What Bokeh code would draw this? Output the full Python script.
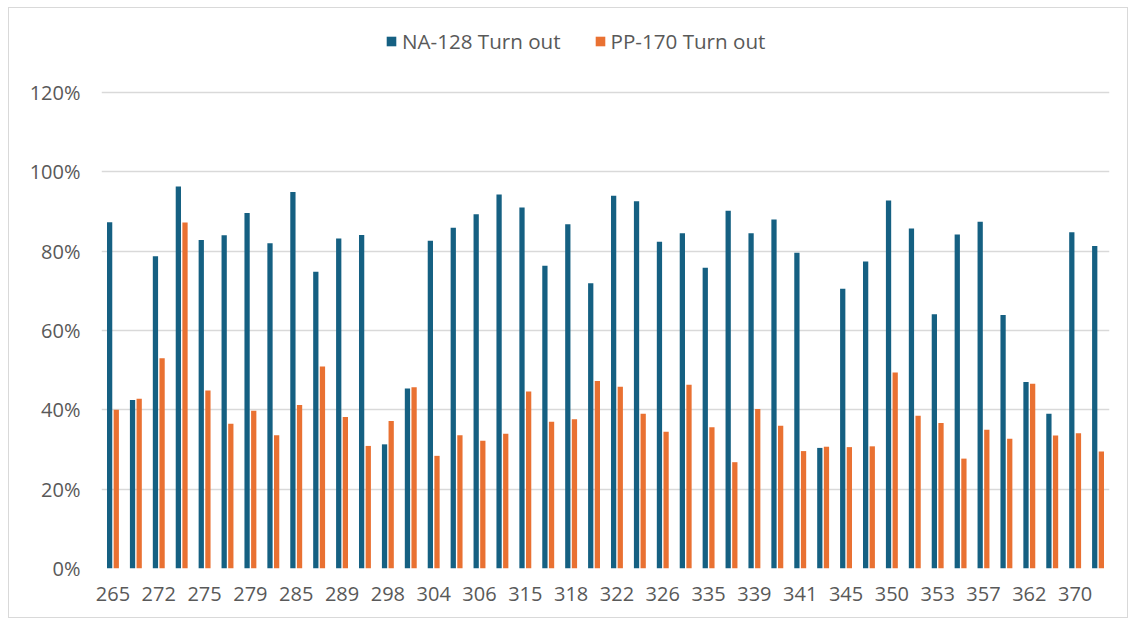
from bokeh.plotting import figure
from bokeh.models import Range1d, FixedTicker, NumeralTickFormatter, Legend, LegendItem, ColumnDataSource
from bokeh.embed import file_html
from bokeh.resources import INLINE

# Visible tick labels (every other category is labelled in the original)
tick_labels = ["265", "272", "275", "279", "285", "289", "298", "304", "306", "315", "318",
               "322", "326", "335", "339", "341", "345", "350", "353", "357", "362", "370"]

na128 = [87.3, 42.5, 78.7, 96.3, 82.8, 84.0, 89.6, 82.0, 94.9, 74.8, 83.2,
         84.1, 31.3, 45.4, 82.6, 85.9, 89.3, 94.3, 91.0, 76.3, 86.8, 71.9,
         94.0, 92.6, 82.4, 84.5, 75.8, 90.2, 84.5, 88.0, 79.6, 30.4, 70.5,
         77.4, 92.8, 85.7, 64.1, 84.2, 87.4, 63.9, 47.0, 39.0, 84.8, 81.3]
pp170 = [40.0, 42.8, 53.0, 87.2, 44.9, 36.5, 39.8, 33.6, 41.2, 50.9, 38.2,
         30.9, 37.2, 45.7, 28.4, 33.6, 32.2, 34.0, 44.6, 37.0, 37.6, 47.3,
         45.8, 39.0, 34.5, 46.3, 35.6, 26.8, 40.2, 36.0, 29.6, 30.7, 30.6,
         30.8, 49.4, 38.5, 36.7, 27.7, 35.0, 32.7, 46.6, 33.5, 34.1, 29.5]

n = len(na128)
idx = list(range(n))
src = ColumnDataSource(dict(
    xa=[i - 0.145 for i in idx],
    xb=[i + 0.145 for i in idx],
    a=[v / 100 for v in na128],
    b=[v / 100 for v in pp170],
))

FONT = "Open Sans"
TXT = "#595959"

# frame extends above the 120% line to host the legend (ticks stop at 120%)
p = figure(width=1120, height=611, output_backend="svg", toolbar_location=None,
           x_range=Range1d(-0.5, n - 0.5), y_range=Range1d(0, 1.2 + 71 / 396.67),
           min_border_left=92, min_border_top=13, min_border_right=20, min_border_bottom=51)
p.margin = (7, 5, 0, 8)
p.styles = {"border": "1px solid #d9d9d9", "box-sizing": "border-box"}
p.outline_line_color = None

ra = p.vbar(x="xa", top="a", width=0.23, source=src, color="#156082", line_color=None)
rb = p.vbar(x="xb", top="b", width=0.23, source=src, color="#E97132", line_color=None)

p.xgrid.grid_line_color = None
p.ygrid.grid_line_color = "#D9D9D9"
p.ygrid.grid_line_width = 1.5

p.yaxis.ticker = FixedTicker(ticks=[0, 0.2, 0.4, 0.6, 0.8, 1.0, 1.2])
p.yaxis.formatter = NumeralTickFormatter(format="0%")
p.xaxis.ticker = FixedTicker(ticks=[2 * i for i in range(len(tick_labels))])
p.xaxis.major_label_overrides = {2 * i: lab for i, lab in enumerate(tick_labels)}

for ax in (p.xaxis, p.yaxis):
    ax.axis_line_color = None
    ax.major_tick_line_color = None
    ax.minor_tick_line_color = None
    ax.major_tick_out = 0
    ax.major_tick_in = 0
    ax.major_label_text_font = FONT
    ax.major_label_text_font_size = "20px"
    ax.major_label_text_color = TXT
p.yaxis.major_label_standoff = 21
p.xaxis.major_label_standoff = 18

legend = Legend(items=[LegendItem(label="NA-128 Turn out", renderers=[ra]),
                       LegendItem(label="PP-170 Turn out", renderers=[rb])],
                orientation="horizontal", location=(284, 513),
                glyph_width=12, glyph_height=12, label_standoff=5, spacing=33,
                padding=4, margin=0, border_line_color=None, background_fill_alpha=0,
                label_text_font=FONT, label_text_font_size="20.6px", label_text_color=TXT)
p.add_layout(legend, "center")

open("out.html", "w").write(file_html(p, INLINE))
